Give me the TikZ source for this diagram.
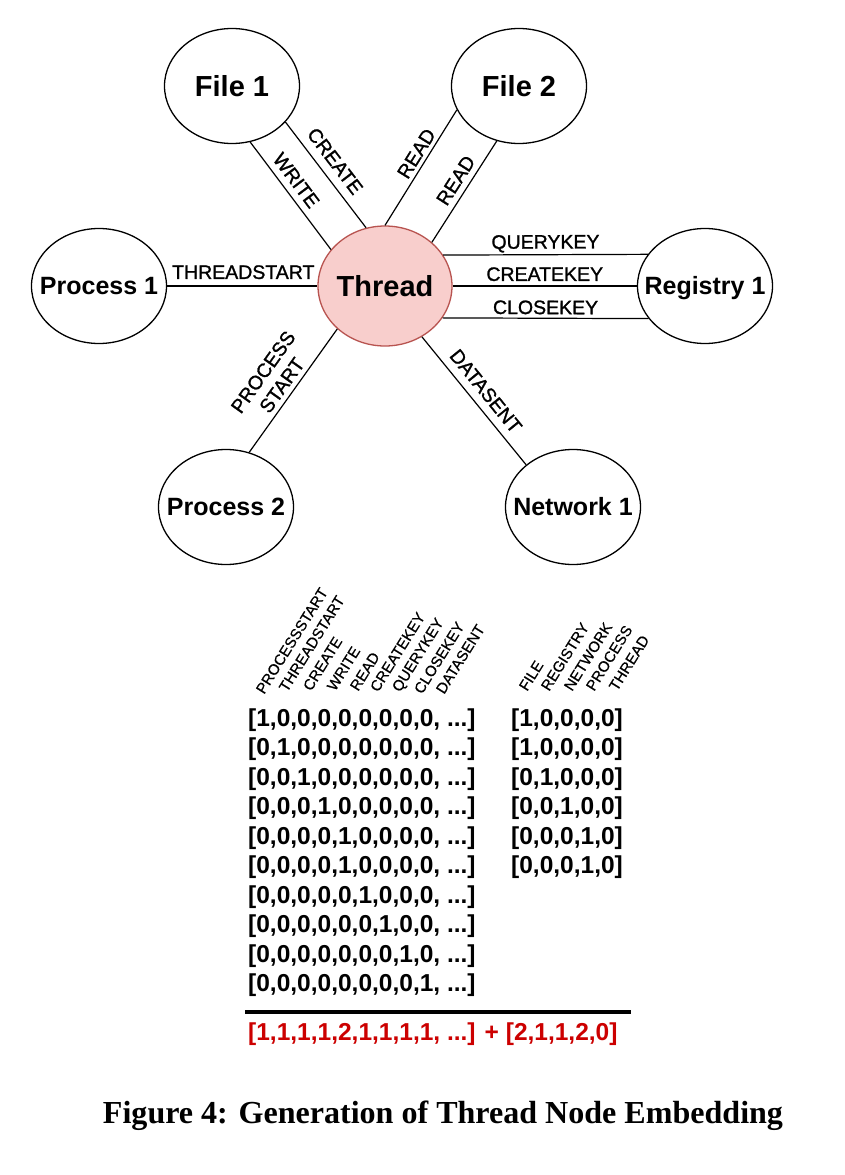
\documentclass[tikz,border=0pt]{standalone}
\usepackage{fontspec}
\setmainfont{Liberation Sans}
\newfontfamily\capfont{Liberation Serif}
\newfontfamily\elabfont[FakeBold=1.2]{Liberation Sans}
\newfontfamily\mlabfont[FakeBold=0.6]{Liberation Sans}
\usetikzlibrary{shapes.geometric}
\definecolor{thfill}{HTML}{F8CECC}
\definecolor{thdraw}{HTML}{B85450}
\definecolor{sumred}{RGB}{204,0,0}
\newcommand{\zb}[1]{\makebox[0pt]{#1}}
\begin{document}
\begin{tikzpicture}[x=1pt,y=-1pt,
  ent/.style={ellipse, draw, line width=1.3pt, inner sep=0pt, minimum width=135pt, minimum height=115pt, fill=white, text depth=0pt},
  bigtxt/.style={font=\fontsize{29}{34}\selectfont\bfseries, text height=20.8pt},
  midtxt/.style={font=\fontsize{25}{30}\selectfont\bfseries, text height=17.9pt},
  conn/.style={line width=1.2pt},
  elab/.style={font=\elabfont\fontsize{19.5}{23}\selectfont, sloped, above, inner xsep=0pt, text depth=0pt},
  mlab/.style={font=\mlabfont\fontsize{15}{18}\selectfont, rotate=58, anchor=base west, inner sep=0pt},
  rowtxt/.style={font=\fontsize{24.5}{29}\selectfont\bfseries, anchor=base west, inner sep=0pt}
]
\path[fill=white] (0,0) rectangle (845,1175);
\useasboundingbox (0,0) rectangle (845,1175);

% entity nodes
\node[ent, bigtxt] (F1) at (232,86) {\zb{File 1}};
\node[ent, bigtxt] (F2) at (519,86) {\zb{File 2}};
\node[ent, midtxt] (P1) at (99,286) {\zb{Process 1}};
\node[ent, bigtxt, fill=thfill, draw=thdraw, minimum width=134pt, minimum height=120pt] (T) at (385,286) {\zb{Thread}};
\node[ent, midtxt] (R) at (705,286) {\zb{Registry 1}};
\node[ent, midtxt] (P2) at (226,507) {\zb{Process 2}};
\node[ent, midtxt] (N) at (573,507) {\zb{Network 1}};

% connectors
\draw[conn] (F1.-72.7) -- node[elab, inner ysep=6.5pt, pos=.434] (lwrite) {WRITE} (T.146.8);
\draw[conn] (F1.-34) -- node[elab, inner ysep=8.5pt, pos=.46] (lcreate) {CREATE} (T.108.6);
\draw[conn] (F2.201.6) -- node[elab, inner ysep=4pt, pos=.43] (lreada) {READ} (T.90);
\draw[conn] (F2.-112.4) -- node[elab, inner ysep=6pt, pos=.46] (lreadb) {READ} (T.43.5);
\draw[conn] (P1.east) -- node[elab, inner ysep=6.5pt, pos=.507] (lthst) {THREADSTART} (T.west);
\draw[conn] (T.28.37) -- node[elab, inner ysep=5.5pt] (lqk) {QUERYKEY} (R.151.4);
\draw[conn] (T.east) -- node[elab, inner ysep=4.5pt] (lck) {CREATEKEY} (R.west);
\draw[conn] (T.-29.45) -- node[elab, inner ysep=3.5pt] (lclk) {CLOSEKEY} (R.-150.29);
\draw[conn] (T.222.3) -- node[elab, align=center, inner ysep=5pt, pos=.515] (lpst) {PROCESS\\START} (P2.67.2);
\draw[conn] (T.-54.1) -- node[elab, inner ysep=8pt, pos=.5] (lds) {DATASENT} (N.138.8);

% rotated column labels
\node[mlab] (m1) at (264,695) {PROCESSSTART};
\node[mlab] (m2) at (287,693) {THREADSTART};
\node[mlab] (m3) at (311,692) {CREATE};
\node[mlab] (m4) at (335,692) {WRITE};
\node[mlab] (m5) at (358,692) {READ};
\node[mlab] (m6) at (378,693) {CREATEKEY};
\node[mlab] (m7) at (400,693) {QUERYKEY};
\node[mlab] (m8) at (422,695) {CLOSEKEY};
\node[mlab] (m9) at (444,695) {DATASENT};
\node[mlab] (n1) at (527,692) {FILE};
\node[mlab] (n2) at (549,692) {REGISTRY};
\node[mlab] (n3) at (572,692) {NETWORK};
\node[mlab] (n4) at (594,692) {PROCESS};
\node[mlab] (n5) at (617,692) {THREAD};

% edge-type vectors
\node[rowtxt] (r1) at (248,726) {[1,0,0,0,0,0,0,0,0, ...]};
\node[rowtxt] (r2) at (248,755.5) {[0,1,0,0,0,0,0,0,0, ...]};
\node[rowtxt] (r3) at (248,785) {[0,0,1,0,0,0,0,0,0, ...]};
\node[rowtxt] (r4) at (248,814.5) {[0,0,0,1,0,0,0,0,0, ...]};
\node[rowtxt] (r5) at (248,844) {[0,0,0,0,1,0,0,0,0, ...]};
\node[rowtxt] (r6) at (248,873.5) {[0,0,0,0,1,0,0,0,0, ...]};
\node[rowtxt] (r7) at (248,903) {[0,0,0,0,0,1,0,0,0, ...]};
\node[rowtxt] (r8) at (248,932.5) {[0,0,0,0,0,0,1,0,0, ...]};
\node[rowtxt] (r9) at (248,962) {[0,0,0,0,0,0,0,1,0, ...]};
\node[rowtxt] (r10) at (248,991.5) {[0,0,0,0,0,0,0,0,1, ...]};

% node-type vectors
\node[rowtxt] (s1) at (511,726) {[1,0,0,0,0]};
\node[rowtxt] (s2) at (511,755.5) {[1,0,0,0,0]};
\node[rowtxt] (s3) at (511,785) {[0,1,0,0,0]};
\node[rowtxt] (s4) at (511,814.5) {[0,0,1,0,0]};
\node[rowtxt] (s5) at (511,844) {[0,0,0,1,0]};
\node[rowtxt] (s6) at (511,873.5) {[0,0,0,1,0]};

% sum rule and result
\coordinate (ruleA) at (245,1012);
\coordinate (ruleB) at (631,1012);
\draw[line width=4pt] (ruleA) -- (ruleB);
\node[rowtxt, text=sumred] (sum) at (248,1040) {[1,1,1,1,2,1,1,1,1, ...] + [2,1,1,2,0]};

% caption
\node[anchor=base, inner sep=0pt] (cap) at (443,1123) {\resizebox{680pt}{!}{\capfont\bfseries Figure 4: Generation of Thread Node Embedding}};
\end{tikzpicture}
\end{document}
